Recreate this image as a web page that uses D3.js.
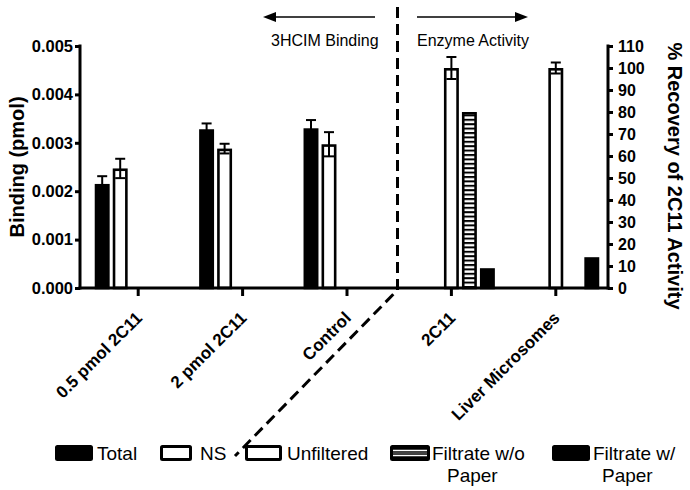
<!DOCTYPE html>
<html><head><meta charset="utf-8">
<script src="https://cdn.jsdelivr.net/npm/d3@7"></script>
<style>body{margin:0;background:#fff}svg{display:block}text{font-family:"Liberation Sans",Arial,sans-serif}</style>
</head><body>
<script>
const categories = ["0.5 pmol 2C11","2 pmol 2C11","Control","2C11","Liver Microsomes"];
const seriesNames = ["Total","NS","Unfiltered","Filtrate w/o Paper","Filtrate w/ Paper"];
// Binding (pmol) — left axis
const totalBinding = [0.00215, 0.00328, 0.00330, null, null];
const totalErr     = [0.00016, 0.00012, 0.00017, null, null];
const nsBinding    = [0.00247, 0.00288, 0.00297, null, null];
const nsErr        = [0.00020, 0.00010, 0.00025, null, null];
// % Recovery of 2C11 activity — right axis
const unfiltered    = [null, null, null, 100, 100];
const unfilteredErr = [null, null, null, 5, 2.5];
const filtrateWo    = [null, null, null, 80, null];
const filtrateW     = [null, null, null, 9, 14];
const leftTicks  = [0, 0.001, 0.002, 0.003, 0.004, 0.005];
const rightTicks = [0,10,20,30,40,50,60,70,80,90,100,110];

const W = 690, H = 490;
const svg = d3.select("body").append("svg").attr("width", W).attr("height", H);
const defs = svg.append("defs");
const pat = defs.append("pattern").attr("id","stripes").attr("patternUnits","userSpaceOnUse")
  .attr("width", 10).attr("height", 4.4);
pat.append("rect").attr("width",10).attr("height",4.4).attr("fill","#fff");
pat.append("rect").attr("width",10).attr("height",2).attr("fill","#000");

const y0 = 288, yTop = 46, axL = 80, axR = 608;
const x = d3.scaleBand().domain(categories).range([86, 608]).padding(0);
const xs = d3.scaleBand().domain(seriesNames).range([-45, 45]).paddingInner(0.17).paddingOuter(0.085);
const yL = d3.scaleLinear().domain([0, 0.005]).range([y0, yTop]);
const yR = d3.scaleLinear().domain([0, 110]).range([y0, yTop]);

const bars = [
  {s:"Total", vals: totalBinding, err: totalErr, y: yL, fill:"#000"},
  {s:"NS", vals: nsBinding, err: nsErr, y: yL, fill:"#fff"},
  {s:"Unfiltered", vals: unfiltered, err: unfilteredErr, y: yR, fill:"#fff"},
  {s:"Filtrate w/o Paper", vals: filtrateWo, err: null, y: yR, fill:"url(#stripes)"},
  {s:"Filtrate w/ Paper", vals: filtrateW, err: null, y: yR, fill:"#000"}
];
const sw = 2.6;
const gBars = svg.append("g");
bars.forEach(b => {
  b.vals.forEach((v, i) => {
    if (v == null) return;
    const cx = x(categories[i]) + x.bandwidth()/2;
    const bx = cx + xs(b.s);
    const bw = xs.bandwidth();
    const top = b.y(v);
    gBars.append("rect").attr("x", bx + sw/2).attr("y", top + sw/2)
      .attr("width", bw - sw).attr("height", y0 - top - sw/2)
      .attr("fill", b.fill).attr("stroke","#000").attr("stroke-width", sw);
    if (b.err && b.err[i] != null) {
      const e = b.err[i], mx = bx + bw/2;
      const yHi = b.y(v + e), yLo = b.y(v - e);
      const g = gBars.append("g").attr("stroke","#000").attr("stroke-width",2);
      g.append("line").attr("x1",mx).attr("x2",mx).attr("y1",yHi).attr("y2",yLo);
      g.append("line").attr("x1",mx-5).attr("x2",mx+5).attr("y1",yHi).attr("y2",yHi);
      g.append("line").attr("x1",mx-5).attr("x2",mx+5).attr("y1",yLo).attr("y2",yLo);
    }
  });
});

// Axes
const axisStyle = g => {
  g.select(".domain").remove();
  g.selectAll(".tick line").attr("stroke","#000").attr("stroke-width",3);
  g.selectAll(".tick text").attr("font-weight","bold").attr("font-size","16.5px").attr("fill","#000");
};
const gl = svg.append("g").attr("transform",`translate(${axL},0)`)
  .call(d3.axisLeft(yL).tickValues(leftTicks).tickFormat(d3.format(".3f")).tickSize(5).tickPadding(2));
axisStyle(gl);
gl.append("line").attr("x1",0).attr("x2",0).attr("y1",yTop-1.5).attr("y2",y0+1.5).attr("stroke","#000").attr("stroke-width",3);

const gr = svg.append("g").attr("transform",`translate(${axR},0)`)
  .call(d3.axisRight(yR).tickValues(rightTicks).tickFormat(d3.format("d")).tickSize(5).tickPadding(5));
axisStyle(gr);
gr.selectAll(".tick text").attr("font-size","16px");
gr.append("line").attr("x1",0).attr("x2",0).attr("y1",yTop-1.5).attr("y2",y0+1.5).attr("stroke","#000").attr("stroke-width",3);

const gx = svg.append("g").attr("transform",`translate(0,${y0})`)
  .call(d3.axisBottom(x).tickSize(8).tickFormat(""));
gx.select(".domain").remove();
gx.selectAll(".tick line").attr("stroke","#000").attr("stroke-width",3);
gx.append("line").attr("x1",axL-1.5).attr("x2",axR+1.5).attr("y1",0).attr("y2",0).attr("stroke","#000").attr("stroke-width",3);
gx.selectAll(".tick").append("text")
  .attr("transform","translate(5,31) rotate(-45)")
  .attr("text-anchor","end").attr("font-weight","bold").attr("font-size","17px").attr("fill","#000")
  .text(d => d);

// Axis titles
svg.append("text").attr("transform",`translate(24,167) rotate(-90)`).attr("text-anchor","middle")
  .attr("font-weight","bold").attr("font-size","20px").text("Binding (pmol)");
svg.append("text").attr("transform",`translate(668,176) rotate(90)`).attr("text-anchor","middle")
  .attr("font-weight","bold").attr("font-size","20px").text("% Recovery of 2C11 Activity");

// Divider dashed line
svg.append("path").attr("d","M397.5,7 L397.5,290 L235,456")
  .attr("fill","none").attr("stroke","#000").attr("stroke-width",3).attr("stroke-dasharray","11,6");

// Arrows and section labels
function arrow(x1, x2, yy) {
  const dir = Math.sign(x2 - x1);
  svg.append("line").attr("x1",x1).attr("x2",x2 - dir*10).attr("y1",yy).attr("y2",yy).attr("stroke","#000").attr("stroke-width",1.5);
  svg.append("path").attr("d",`M${x2},${yy} L${x2-dir*13},${yy-5} L${x2-dir*13},${yy+5} Z`).attr("fill","#000");
}
arrow(375, 263, 17);
arrow(417, 528, 17);
svg.append("text").attr("x",271).attr("y",46).attr("font-size","16px").text("3HCIM Binding");
svg.append("text").attr("x",417).attr("y",46).attr("font-size","16px").text("Enzyme Activity");

// Legend
const legend = [
  {x0:55, w:38, fill:"#000", lines:["Total"], tx:97},
  {x0:160, w:32, fill:"#fff", lines:["NS"], tx:200},
  {x0:245, w:37, fill:"#fff", lines:["Unfiltered"], tx:287},
  {x0:390, w:40, fill:"#000", striped:true, lines:["Filtrate w/o","Paper"], tx:432, tx2:447},
  {x0:552, w:38, fill:"#000", lines:["Filtrate w/","Paper"], tx:593, tx2:602}
];
legend.forEach(d => {
  svg.append("rect").attr("x", d.x0 + 1.5).attr("y", 446.5).attr("width", d.w - 3).attr("height", 13)
    .attr("fill", d.fill).attr("stroke","#000").attr("stroke-width",3).attr("rx",1);
  if (d.striped) {
    [450.5, 455.5].forEach(yy => svg.append("line").attr("x1", d.x0 + 3).attr("x2", d.x0 + d.w - 3)
      .attr("y1", yy).attr("y2", yy).attr("stroke","#fff").attr("stroke-width",1.6));
    svg.append("line").attr("x1", d.x0 + 3).attr("x2", d.x0 + d.w - 3)
      .attr("y1", 453).attr("y2", 453).attr("stroke","#888").attr("stroke-width",1);
  }
  svg.append("text").attr("x", d.tx).attr("y", 459.5).attr("font-size","19px").text(d.lines[0]);
  if (d.lines[1]) svg.append("text").attr("x", d.tx2).attr("y", 482).attr("font-size","19px").text(d.lines[1]);
});
</script>
</body></html>
